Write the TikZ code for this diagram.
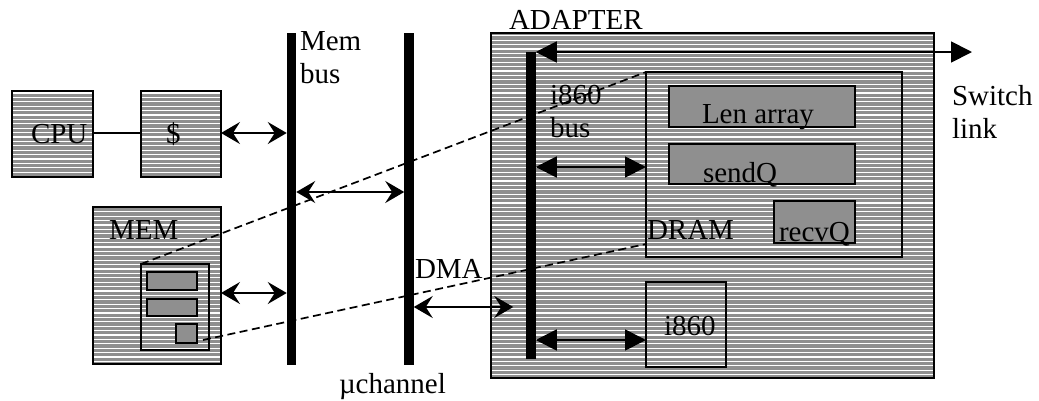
\documentclass[tikz,border=0pt]{standalone}
\usepackage{fontspec}
\setmainfont{Liberation Serif}
\usetikzlibrary{arrows.meta,calc}
\definecolor{midgray}{RGB}{143,143,143}
\tikzset{
  greybox/.style={fill=midgray, inner sep=0pt, outer sep=0pt},
  solidbox/.style={draw, fill=midgray, line width=1.7pt, inner sep=0pt, outer sep=0pt},
  openbox/.style={draw, line width=1.7pt, inner sep=0pt, outer sep=0pt},
  rimline/.style={line width=1.7pt},
  stripeline/.style={white, line width=1.2pt},
  busbar/.style={fill=black, inner sep=0pt, outer sep=0pt, minimum width=9.5},
  lbl/.style={inner sep=0pt, outer sep=0pt, font=\fontsize{29}{33}\selectfont, align=left},
  thinline/.style={line width=1.8pt},
  memlink/.style={line width=1.8pt,
    arrows={Stealth[length=19pt,width=22pt,inset=7pt]-Stealth[length=19pt,width=22pt,inset=7pt]}},
  adlink/.style={line width=1.8pt,
    arrows={Triangle[length=21pt,width=21pt]-Triangle[length=21pt,width=21pt]}},
  dashlink/.style={line width=1.7pt, dash pattern=on 8pt off 4.5pt}
}
% white horizontal rules over a grey box, then its black rim
\newcommand\hatchbox[1]{%
  \begin{scope}
    \clip (#1.south west) rectangle (#1.north east);
    \foreach \yy in {0.5,4.9,...,400} \draw[stripeline] (0,\yy) -- (1039,\yy);
  \end{scope}
  \draw[rimline] (#1.south west) rectangle (#1.north east);}
\begin{document}
\begin{tikzpicture}[x=1pt,y=-1pt]
\useasboundingbox (0,0) rectangle (1039,400);

% rows used by the horizontal links
\coordinate (rowcpu) at (0,133);
\coordinate (rowbus) at (0,192);
\coordinate (rowmem) at (0,293);
\coordinate (rowdma) at (0,307);
\coordinate (rowdram) at (0,167);
\coordinate (rowi) at (0,340);
\coordinate (swtip) at (972,52);

% host side
\node[greybox, minimum width=81, minimum height=86] (cpu) at (52.5,134) {};
\hatchbox{cpu}
\node[lbl, anchor=base west] (cputxt) at (31,143) {CPU};
\node[greybox, minimum width=80, minimum height=86] (cache) at (181,134) {};
\hatchbox{cache}
\node[lbl, anchor=base west] (cachetxt) at (166,143) {\$};

\node[greybox, minimum width=128, minimum height=157] (mem) at (157,285.5) {};
\hatchbox{mem}
\node[lbl, anchor=base west] (memtxt) at (109,239) {MEM};
\node[openbox, minimum width=68, minimum height=86] (membuf) at (175,307) {};
\node[solidbox, minimum width=50, minimum height=18] (slot1) at (172,281) {};
\node[solidbox, minimum width=50, minimum height=17] (slot2) at (172,307.5) {};
\node[solidbox, minimum width=21, minimum height=19] (slot3) at (186.5,333.5) {};

% adapter
\node[greybox, minimum width=443, minimum height=345] (adapter) at (712.5,205.5) {};
\hatchbox{adapter}
\node[lbl, anchor=base west] (adtxt) at (509,29) {ADAPTER};
\node[openbox, minimum width=256, minimum height=185] (dram) at (774,164.5) {};
\node[solidbox, minimum width=186, minimum height=41] (lenarr) at (762,106.5) {};
\node[lbl, anchor=base west] (lentxt) at (702,123) {Len array};
\node[solidbox, minimum width=186, minimum height=40] (sendq) at (762,164) {};
\node[lbl, anchor=base west] (sendtxt) at (703,182) {sendQ};
\node[solidbox, minimum width=81, minimum height=42] (recvq) at (814.5,222) {};
\node[lbl, anchor=base west] (recvtxt) at (779,241) {recvQ};
\node[lbl, anchor=base west] (dramtxt) at (647,239) {DRAM};
\node[openbox, minimum width=80, minimum height=85] (i860) at (686,324.5) {};
\node[lbl, anchor=base west] (i860txt) at (664,335) {i860};

% buses
\node[busbar, minimum height=332] (membus) at (291.5,199) {};
\node[busbar, minimum height=332] (uchan) at (409,199) {};
\node[busbar, minimum height=307] (ibus) at (531,205.5) {};
\node[lbl, anchor=north west] (membustxt) at (300,32) {Mem\\bus};
\node[lbl, anchor=base west] (uchantxt) at (339,393) {µchannel};
\node[lbl, anchor=north west] (ibustxt) at (550,85) {i860\\bus};
\node[lbl, anchor=base west] (dmatxt) at (415,278) {DMA};
\node[lbl, anchor=north west] (swtxt) at (952,85) {Switch\\link};

% links
\draw[thinline] (cpu.east |- rowcpu) -- (cache.west |- rowcpu);
\draw[memlink] (cache.east |- rowcpu) -- (membus.west |- rowcpu);
\draw[memlink] (membus.east |- rowbus) -- (uchan.west |- rowbus);
\draw[memlink] (mem.east |- rowmem) -- (membus.west |- rowmem);
\draw[memlink] (uchan.east |- rowdma) -- ($(ibus.west |- rowdma)+(-13,0)$);
\draw[adlink] (ibus.north east) -- (swtip);
\draw[adlink] (ibus.east |- rowdram) -- (dram.west |- rowdram);
\draw[adlink] (ibus.east |- rowi) -- (i860.west |- rowi);

% DMA mapping between host buffer and DRAM
\draw[dashlink] (membuf.north west) -- (dram.north west);
\draw[dashlink] ($(slot3.south east)+(6,-3)$) -- ($(dram.south west)+(0,-13)$);
\end{tikzpicture}
\end{document}
